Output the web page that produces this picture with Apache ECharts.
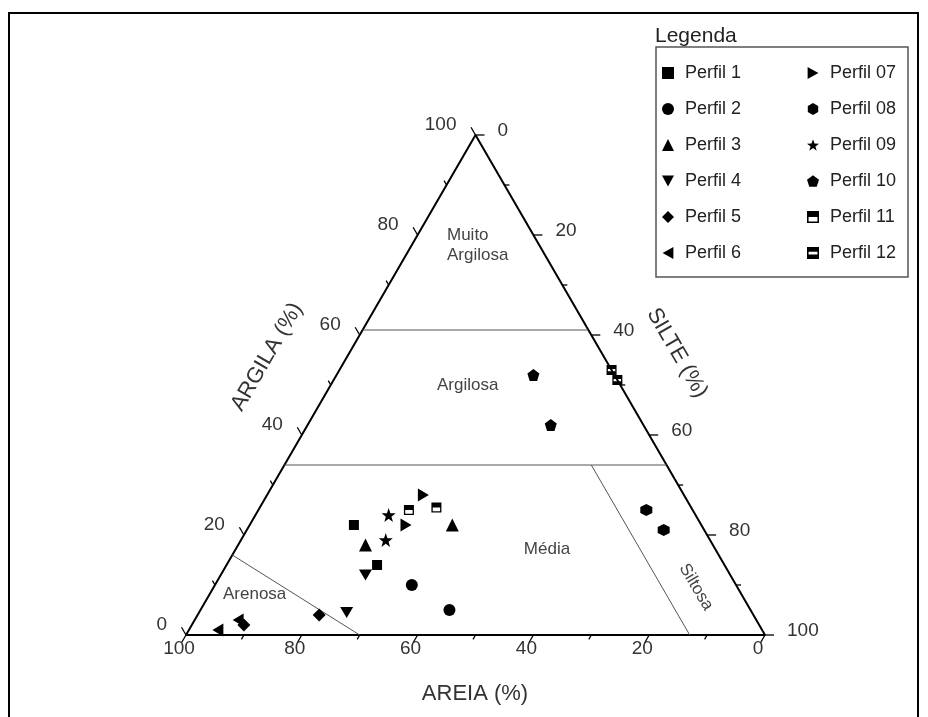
<!DOCTYPE html>
<html><head><meta charset="utf-8">
<script src="https://cdn.jsdelivr.net/npm/echarts@6/dist/echarts.min.js"></script>
<style>html,body{margin:0;padding:0;background:#fff}#c{width:928px;height:717px}</style>
</head><body><div id="c"></div>
<script>
// ---------- DATA ----------
const profileNames = ['Perfil 1','Perfil 2','Perfil 3','Perfil 4','Perfil 5','Perfil 6',
                      'Perfil 07','Perfil 08','Perfil 09','Perfil 10','Perfil 11','Perfil 12'];
// each horizon: [areia %, argila %]  (silte = 100 - areia - argila)
const perfil1  = [[60,22],[60,14]];
const perfil2  = [[56,10],[52,5]];
const perfil3  = [[60,18],[43,22]];
const perfil4  = [[63,12],[70,4.5]];
const perfil5  = [[89,2],[75,4]];
const perfil6  = [[94,1],[89.5,3]];
const perfil7  = [[45,28],[51,22]];
const perfil8  = [[8,25],[7,21]];
const perfil9  = [[53,24],[56,19]];
const perfil10 = [[14,52],[16,42]];
const perfil11 = [[49,25],[44,25.5]];
const perfil12 = [[0,53],[0,51]];
const profiles = [perfil1,perfil2,perfil3,perfil4,perfil5,perfil6,perfil7,perfil8,perfil9,perfil10,perfil11,perfil12];

// class boundaries [areia, argila]
const triangleEdge      = [[100,0],[0,0],[0,100],[100,0]];
const muitoArgilosaLine = [[39,61],[0,61]];
const argilosaLine      = [[66,34],[0,34]];
const arenosaLine       = [[84,16],[70,0]];
const siltosaLine       = [[13,34],[13,0]];

const tickValues      = [0,10,20,30,40,50,60,70,80,90,100];
const sandTickLabels  = [100,80,60,40,20,0];
const clayTickLabels  = [0,20,40,60,80,100];
const siltTickLabels  = [0,20,40,60,80,100];

// ---------- STYLE ----------
const FONT = "'Liberation Sans', Arial, Helvetica, sans-serif";
const symbols = [
  'rect','circle','triangle',
  'path://M0,0L10,0L5,9Z',
  'diamond',
  'path://M0,5L9,0L9,10Z',
  'path://M0,0L9,5L0,10Z',
  'path://M5,0L9.33,2.5L9.33,7.5L5,10L0.67,7.5L0.67,2.5Z',
  'path://M5,0L6.18,3.38L9.76,3.45L6.9,5.62L7.94,9.05L5,7L2.06,9.05L3.1,5.62L0.24,3.45L3.82,3.38Z',
  'path://M5,0L9.76,3.45L7.94,9.05L2.06,9.05L0.24,3.45Z',
  'path://M0,0L10,0L10,10L0,10Z M1.3,5L1.3,8.7L8.7,8.7L8.7,5Z',
  'path://M0,0L10,0L10,10L0,10Z M1.3,4L1.3,6.3L8.7,6.3L8.7,4Z'
];
const symbolSizes = [10,12,13,[13,11],13,[11,13],[11,13],12,14,12,10,10];

function toXY(p){ const sand=p[0], clay=p[1]; return [100 - sand - clay/2, clay]; }

const chart = echarts.init(document.getElementById('c'), null, {renderer:'canvas'});

const series = [];
function lineSeries(pts, width, color){
  return {type:'line', data: pts.map(toXY), showSymbol:false, symbol:'none', silent:true,
          lineStyle:{width:width, color:color}, z:2, animation:false};
}
series.push(lineSeries(triangleEdge, 2, '#000'));
[muitoArgilosaLine, argilosaLine, arenosaLine, siltosaLine].forEach(l=>series.push(lineSeries(l, 1, '#555')));

const edges = [
  {vals: tickValues, labels: sandTickLabels, toXY: v=>[100-v,0], dir:[-0.5,0.866], lab:[-7,14], align:'center'},
  {vals: tickValues, labels: clayTickLabels, toXY: v=>[v/2,v], dir:[-0.5,-0.866], lab:[-19,-10], align:'right'},
  {vals: tickValues, labels: siltTickLabels, toXY: v=>[50+v/2,100-v], dir:[1,0], lab:[22,-4], align:'left'}
];
edges.forEach(e=>{
  series.push({
    type:'custom', silent:true, clip:false, animation:false, z:3,
    data: e.vals.map(v=>[v]),
    renderItem: function(params, api){
      const v = api.value(0);
      const p = api.coord(e.toXY(v));
      const major = e.labels.indexOf(v) >= 0;
      const len = major ? 9 : 5;
      const ch = [{type:'line', shape:{x1:p[0], y1:p[1], x2:p[0]+e.dir[0]*len, y2:p[1]+e.dir[1]*len},
                   style:{stroke:'#000', lineWidth:1.3}}];
      if (major) ch.push({type:'text', x:p[0]+e.lab[0], y:p[1]+e.lab[1],
          style:{text:String(v), fill:'#333', fontSize:19, fontFamily:FONT,
                 align:e.align, verticalAlign:'middle', textAlign:e.align, textVerticalAlign:'middle'}});
      return {type:'group', children: ch};
    }
  });
});

profiles.forEach((pts,i)=>{
  series.push({
    type:'scatter', name: profileNames[i], data: pts.map(toXY),
    symbol: symbols[i], symbolSize: symbolSizes[i], z:5, animation:false,
    itemStyle:{color:'#000', opacity:1}
  });
});

const legendCommon = {orient:'vertical', top:63, itemWidth:12, itemHeight:12, itemGap:16, padding:0,
  selectedMode:false, textStyle:{fontSize:18, lineHeight:20, color:'#222', fontFamily:FONT, padding:[0,0,0,6]}};

const option = {
  backgroundColor:'#fff',
  animation:false,
  grid:{left:186, top:135, width:579, height:500},
  xAxis:{type:'value', min:0, max:100, show:false},
  yAxis:{type:'value', min:0, max:100, show:false},
  legend:[
    Object.assign({}, legendCommon, {left:662, data: profileNames.slice(0,6)}),
    Object.assign({}, legendCommon, {left:807, data: profileNames.slice(6)})
  ],
  graphic:[
    {type:'rect', shape:{x:9, y:13, width:909, height:740}, style:{fill:'none', stroke:'#000', lineWidth:2}, silent:true},
    {type:'rect', shape:{x:656, y:47, width:252, height:230}, style:{fill:'none', stroke:'#555', lineWidth:1.5}, silent:true},
    {type:'text', x:655, y:36, style:{text:'Legenda', fontSize:21, fontFamily:FONT, fill:'#222', align:'left', verticalAlign:'middle'}},
    {type:'text', x:475, y:694, style:{text:'AREIA (%)', fontSize:22, fontFamily:FONT, fill:'#333', align:'center', verticalAlign:'middle'}},
    {type:'text', x:267, y:357, rotation:59.8*Math.PI/180, style:{text:'ARGILA (%)', fontSize:22, fontFamily:FONT, fill:'#333', align:'center', verticalAlign:'middle'}},
    {type:'text', x:677, y:353, rotation:-59.8*Math.PI/180, style:{text:'SILTE (%)', fontSize:22, fontFamily:FONT, fill:'#333', align:'center', verticalAlign:'middle'}},
    {type:'text', x:447, y:235, style:{text:'Muito', fontSize:17, fontFamily:FONT, fill:'#444', align:'left', verticalAlign:'middle'}},
    {type:'text', x:447, y:255, style:{text:'Argilosa', fontSize:17, fontFamily:FONT, fill:'#444', align:'left', verticalAlign:'middle'}},
    {type:'text', x:437, y:385, style:{text:'Argilosa', fontSize:17, fontFamily:FONT, fill:'#444', align:'left', verticalAlign:'middle'}},
    {type:'text', x:547, y:549, style:{text:'Média', fontSize:17, fontFamily:FONT, fill:'#444', align:'center', verticalAlign:'middle'}},
    {type:'text', x:223, y:594, style:{text:'Arenosa', fontSize:17, fontFamily:FONT, fill:'#444', align:'left', verticalAlign:'middle'}},
    {type:'text', x:696, y:587, rotation:-59.4*Math.PI/180, style:{text:'Siltosa', fontSize:17, fontFamily:FONT, fill:'#444', align:'center', verticalAlign:'middle'}}
  ],
  series: series
};
chart.setOption(option);
</script></body></html>
